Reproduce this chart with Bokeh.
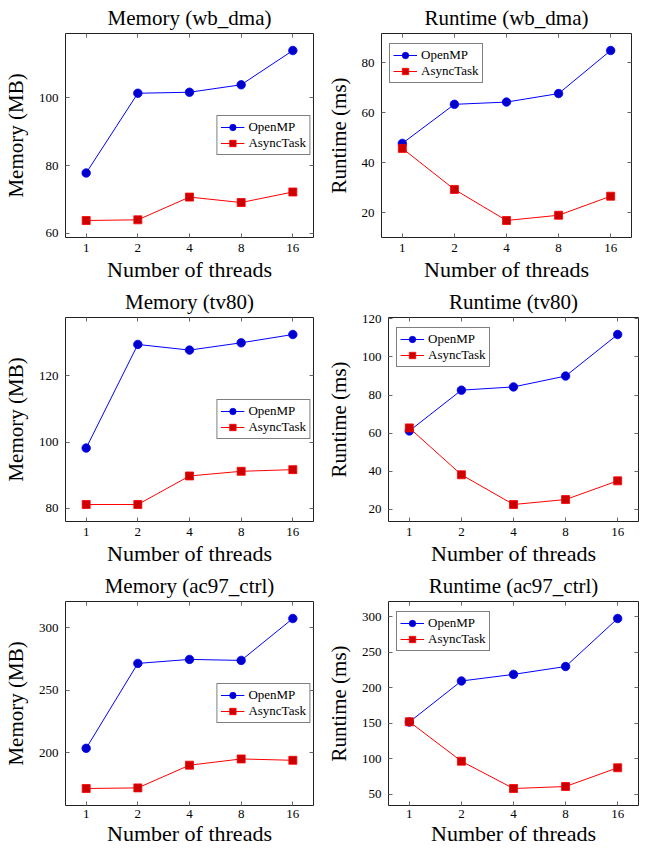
import numpy as np
from bokeh.plotting import figure
from bokeh.models import (Range1d, FixedTicker, SingleIntervalTicker, LinearAxis,
                          BasicTickFormatter)
from bokeh.layouts import column, row
from bokeh.embed import file_html
from bokeh.resources import INLINE

# ---------------- data ----------------
threads = [1, 2, 4, 8, 16]

mem_wb_openmp = [77.8, 101.3, 101.6, 103.8, 113.9]
mem_wb_async = [63.8, 64.0, 70.7, 69.1, 72.2]
rt_wb_openmp = [47.7, 63.3, 64.2, 67.6, 84.8]
rt_wb_async = [45.7, 29.3, 16.9, 19.0, 26.6]

mem_tv_openmp = [98.2, 129.4, 127.7, 129.9, 132.4]
mem_tv_async = [81.2, 81.2, 89.8, 91.2, 91.7]
rt_tv_openmp = [61.2, 82.6, 84.3, 90.0, 111.8]
rt_tv_async = [62.8, 38.2, 22.6, 25.2, 35.0]

mem_ac_openmp = [203.5, 271.6, 274.8, 274.0, 307.6]
mem_ac_async = [171.3, 171.8, 190.0, 195.0, 193.9]
rt_ac_openmp = [151.4, 209.2, 218.5, 229.6, 297.2]
rt_ac_async = [151.8, 96.2, 57.8, 60.6, 87.0]

series_names = ["OpenMP", "AsyncTask"]
x_label = "Number of threads"

FONT = "Liberation Serif"
BLUE, BLUE_FILL = "#0000FF", "#0000CC"
RED, RED_FILL = "#FF0000", "#CC0000"


def make_panel(title, ylabel, openmp, asynct, interval, legend_where, col,
               top_b, bot_b, xstd, xlstd):
    frame_h = 204
    lx = np.log2(threads)
    span = lx.max() - lx.min()
    xr = Range1d(2 ** (lx.min() - 0.1 * span), 2 ** (lx.max() + 0.1 * span))
    allv = np.array(openmp + asynct)
    yspan = allv.max() - allv.min()
    yr = Range1d(allv.min() - 0.1 * yspan, allv.max() + 0.1 * yspan)

    if col == 0:
        fw, bl, br = 248, 60, 10
    else:
        fw, bl, br = 250, 58, 5

    p = figure(x_axis_type="log", x_range=xr, y_range=yr,
               frame_width=fw, frame_height=frame_h,
               min_border_left=bl, min_border_right=br,
               min_border_top=top_b, min_border_bottom=bot_b,
               output_backend="svg", toolbar_location=None,
               background_fill_color="white", border_fill_color="white")
    p.title.text = title
    p.title.text_font = FONT
    p.title.text_font_size = "21px"
    p.title.text_font_style = "normal"
    p.title.text_color = "black"
    p.title.align = "center"
    p.title.standoff = 7
    p.grid.visible = False
    p.outline_line_color = "#222222"
    p.outline_line_width = 1
    p.outline_line_alpha = 1.0

    xa = p.xaxis[0]
    xa.ticker = FixedTicker(ticks=threads)
    xa.formatter = BasicTickFormatter()
    xa.axis_label = x_label
    ya = p.yaxis[0]
    ya.ticker = SingleIntervalTicker(interval=interval, num_minor_ticks=0)
    ya.axis_label = ylabel

    for ax, std, lstd, lsize in ((xa, xstd, xlstd, "22px"), (ya, 7, 8, "21px")):
        ax.axis_line_color = None
        ax.major_tick_in = 4
        ax.major_tick_out = 0
        ax.major_tick_line_color = "#666666"
        ax.minor_tick_line_color = None
        ax.major_label_text_font = FONT
        ax.major_label_text_font_size = "13px"
        ax.major_label_text_color = "black"
        ax.major_label_standoff = std
        ax.axis_label_text_font = FONT
        ax.axis_label_text_font_size = lsize
        ax.axis_label_text_font_style = "normal"
        ax.axis_label_text_color = "black"
        ax.axis_label_standoff = lstd

    # mirrored tick marks on top and right (no labels)
    top = LinearAxis(ticker=FixedTicker(ticks=threads))
    right = LinearAxis(ticker=SingleIntervalTicker(interval=interval, num_minor_ticks=0))
    for ax in (top, right):
        ax.axis_line_color = None
        ax.major_tick_in = 4
        ax.major_tick_out = 0
        ax.major_tick_line_color = "#666666"
        ax.minor_tick_line_color = None
        ax.major_label_text_font_size = "1px"
        ax.major_label_text_color = None
        ax.major_label_standoff = 0
    p.add_layout(top, "above")
    p.add_layout(right, "right")

    p.line(threads, openmp, color=BLUE, line_width=1, legend_label=series_names[0])
    p.scatter(threads, openmp, marker="circle", size=8.5, fill_color=BLUE_FILL,
              line_color=BLUE, line_width=0.8, legend_label=series_names[0])
    p.line(threads, asynct, color=RED, line_width=1, legend_label=series_names[1])
    p.scatter(threads, asynct, marker="square", size=8, fill_color=RED_FILL,
              line_color=RED, line_width=0.8, legend_label=series_names[1])

    lg = p.legend[0]
    lg.label_text_font = FONT
    lg.label_text_font_size = "13px"
    lg.label_text_color = "black"
    lg.glyph_width = 24
    lg.glyph_height = 16
    lg.label_height = 16
    lg.label_standoff = 4
    lg.spacing = 0
    lg.padding = 3
    lg.border_line_color = "black"
    lg.border_line_width = 1
    lg.background_fill_alpha = 1.0
    if legend_where == "right":
        lg.location = "center_right"
        lg.margin = 3
    else:
        lg.margin = 0
        lg.location = (8, frame_h - 12 - 38)
    return p


p1 = make_panel("Memory (wb_dma)", "Memory (MB)", mem_wb_openmp, mem_wb_async, 20, "right", 0, 32, 47, 6, 2)
p2 = make_panel("Runtime (wb_dma)", "Runtime (ms)", rt_wb_openmp, rt_wb_async, 20, "tl", 1, 32, 47, 6, 2)
p3 = make_panel("Memory (tv80)", "Memory (MB)", mem_tv_openmp, mem_tv_async, 20, "right", 0, 32, 47, 6, 2)
p4 = make_panel("Runtime (tv80)", "Runtime (ms)", rt_tv_openmp, rt_tv_async, 20, "tl", 1, 32, 47, 6, 2)
p5 = make_panel("Memory (ac97_ctrl)", "Memory (MB)", mem_ac_openmp, mem_ac_async, 50, "right", 0, 32, 43, 4, 0)
p6 = make_panel("Runtime (ac97_ctrl)", "Runtime (ms)", rt_ac_openmp, rt_ac_async, 50, "tl", 1, 32, 43, 4, 0)

layout = column(row(p1, p2), row(p3, p4), row(p5, p6))

open("out.html", "w").write(file_html(layout, INLINE))
